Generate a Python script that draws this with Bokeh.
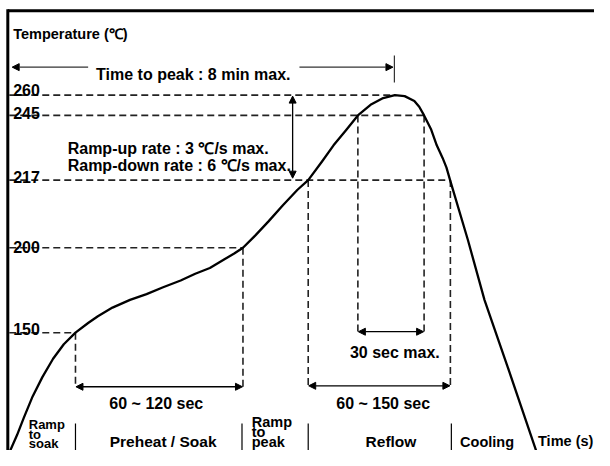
from bokeh.plotting import figure
from bokeh.models import ColumnDataSource, Arrow, NormalHead, Range1d
from bokeh.core.properties import value
from bokeh.embed import file_html
from bokeh.resources import INLINE

# ---- schematic reflow profile (time in schematic units, temperature as schematic height) ----
curve_t = [3, 10, 17, 26, 36, 47, 58, 70, 83, 93, 108, 126, 143, 160, 178, 193, 208, 223,
           233, 242, 255, 268, 283, 298, 309, 323, 335, 348, 360, 373, 386, 398, 408, 418,
           423, 428, 435, 441, 447, 451, 455, 473, 490, 513, 543]
curve_h = [0, 16, 34, 56, 76, 95, 110, 122, 132, 139, 148, 156, 162, 169, 176, 183, 189, 198,
           204, 210, 223, 237, 254, 270, 280, 299, 316, 332, 347, 358, 365, 368, 367, 362,
           356, 347, 333, 316, 303, 293, 279, 218, 156, 89, 0]

# temperature levels (label, schematic height, time where the guide meets the curve)
temp_labels = ["260", "245", "217", "200", "150"]
temp_level_h = [368, 347, 280, 210, 122]
temp_guide_end_t = [398, 428, 455, 242, 70]
temp_label_base_h = [373, 350, 283, 211, 126]

# key times on the profile
t_soak_start, t_soak_end = 70, 242
t_liq_up, t_liq_down = 309, 455
t_245_up, t_245_down = 360, 428
t_peak = 398

# vertical guides: time, from height, to height
vguide_t = [t_soak_start, t_soak_end, t_liq_up, t_245_up, t_245_down, t_liq_down]
vguide_h0 = [122, 210, 280, 347, 347, 280]
vguide_h1 = [66, 66, 66, 123, 123, 66]

# phase separators at the bottom
sep_t = [70, 241, 309, 456]

FONT = "Liberation Sans"

p = figure(width=594, height=450, output_backend="svg", toolbar_location=None,
           x_range=Range1d(-7, 603), y_range=Range1d(0, 466), min_border=0)
p.axis.visible = False
p.grid.visible = False
p.outline_line_color = None
p.background_fill_color = "white"
p.border_fill_color = "white"

# frame (left and top)
p.segment(x0=[0.5, 0.5], y0=[457, 455.5], x1=[0.5, 603], y1=[0, 455.5],
          line_color="black", line_width=3)

# horizontal dashed guides
p.segment(x0=[2] * len(temp_level_h), y0=temp_level_h, x1=temp_guide_end_t, y1=temp_level_h,
          line_color="#222222", line_width=1.6, line_dash="7 4")
# vertical dashed guides
p.segment(x0=vguide_t, y0=vguide_h0, x1=vguide_t, y1=vguide_h1,
          line_color="#222222", line_width=1.6, line_dash="7 4")

# the profile curve
p.line(curve_t, curve_h, line_color="black", line_width=2.3, line_join="round")

# phase separators
p.segment(x0=sep_t, y0=[0] * len(sep_t), x1=sep_t, y1=[28] * len(sep_t),
          line_color="black", line_width=1.2)

# double-headed dimension arrows
dbl = ColumnDataSource(dict(
    x0=[t_soak_start + 0.5, t_liq_up + 0.5, t_245_up + 0.5, 293],
    y0=[66, 67, 123, 367],
    x1=[t_soak_end - 0.5, t_liq_down - 0.5, t_245_down - 0.5, 293],
    y1=[66, 67, 123, 282],
))
p.add_layout(Arrow(source=dbl, x_start="x0", y_start="y0", x_end="x1", y_end="y1",
                   line_color="black", line_width=1.3,
                   start=NormalHead(size=7, fill_color="black", line_color="black", line_width=1),
                   end=NormalHead(size=7, fill_color="black", line_color="black", line_width=1)))

# time-to-peak arrows
sgl = ColumnDataSource(dict(x0=[83, 300], y0=[397, 397], x1=[5, 396], y1=[397, 397]))
p.add_layout(Arrow(source=sgl, x_start="x0", y_start="y0", x_end="x1", y_end="y1",
                   line_color="#333333", line_width=1.2,
                   end=NormalHead(size=7, fill_color="black", line_color="black", line_width=1)))
p.segment(x0=[t_peak - 0.5], y0=[381], x1=[t_peak - 0.5], y1=[409], line_color="#333333", line_width=1.2)

def add_text(xs, ys, texts, size, align="left"):
    src = ColumnDataSource(dict(x=xs, y=ys, t=texts))
    p.text(x="x", y="y", text="t", source=src, text_font=value(FONT), text_font_style="bold",
           text_font_size=value(size), text_color="black", text_align=align,
           text_baseline="alphabetic")

# axis-like labels
add_text([6], [431], ["Temperature (℃)"], "14.5px")
add_text([6] * len(temp_labels), temp_label_base_h, temp_labels, "16px")

# annotations
add_text([191], [389], ["Time to peak : 8 min max."], "16px", "center")
add_text([62, 62], [313, 295], ["Ramp-up rate : 3 ℃/s max.", "Ramp-down rate : 6 ℃/s max."], "16px")
add_text([153, 386], [49, 49], ["60 ~ 120 sec", "60 ~ 150 sec"], "16px", "center")
add_text([398], [101], ["30 sec max."], "16px", "center")

# phase names
add_text([160, 394], [9, 9], ["Preheat / Soak", "Reflow"], "15.5px", "center")
add_text([465], [9], ["Cooling"], "14.5px")
add_text([545], [10], ["Time (s)"], "14.5px")
add_text([22, 22, 22], [27, 17, 7], ["Ramp", "to", "soak"], "13px")
add_text([251, 251, 251], [29, 19, 9], ["Ramp", "to", "peak"], "14.5px")

open("out.html", "w").write(file_html(p, INLINE))
